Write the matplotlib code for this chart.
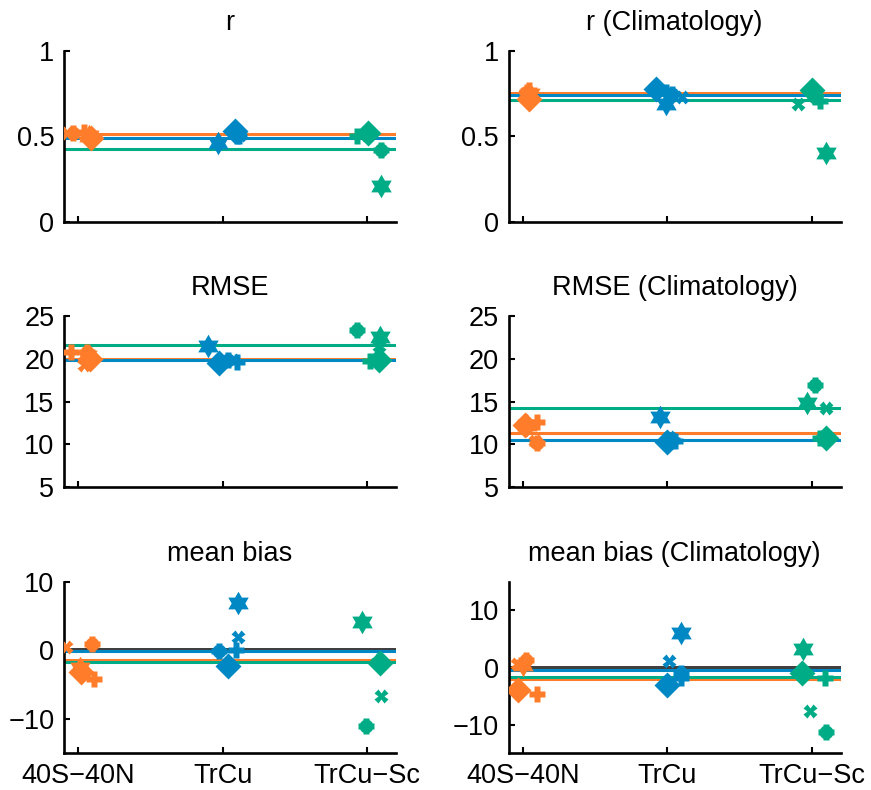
import numpy as np
import matplotlib
matplotlib.use('Agg')
import matplotlib.pyplot as plt

plt.rcParams['font.family'] = ['Liberation Sans', 'DejaVu Sans']

# categories and colours
categories = ['40S\u221240N', 'TrCu', 'TrCu\u2212Sc']
colors = ['#FF7D2A', '#0088C4', '#00AC86']

# each row = category, columns = model marker [x, plus, blob, diamond, hexagram]
r_vals = [[0.52, 0.525, 0.52, 0.49, 0.50],
          [0.51, 0.50, 0.50, 0.53, 0.46],
          [0.51, 0.50, 0.42, 0.52, 0.21]]
r_jit = [[-0.08, 0.04, -0.04, 0.09, 0.07],
         [0.12, 0.11, 0.10, 0.084, -0.035],
         [0.0, -0.07, 0.098, 0.007, 0.098]]
r_ref = [0.515, 0.493, 0.427]

r_clim_vals = [[0.75, 0.77, 0.76, 0.72, 0.75],
               [0.73, 0.76, 0.75, 0.78, 0.69],
               [0.69, 0.71, 0.73, 0.77, 0.405]]
r_clim_jit = [[0.014, 0.04, 0.03, 0.04, 0.05],
              [0.10, -0.007, 0.035, -0.076, -0.007],
              [-0.097, 0.056, 0.02, 0.0, 0.097]]
r_clim_ref = [0.752, 0.745, 0.715]

rmse_vals = [[19.3, 20.8, 20.8, 20.0, 20.3],
             [19.8, 19.6, 19.85, 19.5, 21.5],
             [21.5, 19.7, 23.4, 19.8, 22.6]]
rmse_jit = [[0.04, -0.05, 0.056, 0.077, 0.06],
            [0.07, 0.10, 0.035, -0.028, -0.10],
            [0.085, 0.02, -0.07, 0.085, 0.09]]
rmse_ref = [20.0, 19.8, 21.6]

rmse_clim_vals = [[10.4, 12.6, 10.2, 12.25, 12.2],
                  [10.8, 10.4, 10.5, 10.3, 13.2],
                  [14.25, 10.7, 16.9, 10.7, 14.8]]
rmse_clim_jit = [[0.083, 0.097, 0.097, 0.014, 0.03],
                 [0.014, 0.05, 0.035, 0.0, -0.049],
                 [0.097, 0.056, 0.02, 0.097, -0.035]]
rmse_clim_ref = [11.35, 10.5, 14.27]

bias_vals = [[0.5, -4.2, 1.0, -3.1, -2.6],
             [1.9, 0.05, -0.1, -2.3, 6.9],
             [-6.7, -1.5, -11.05, -1.8, 4.2]]
bias_jit = [[-0.084, 0.11, 0.097, 0.021, 0.01],
            [0.104, 0.09, -0.028, 0.035, 0.104],
            [0.098, 0.08, -0.007, 0.09, -0.035]]
bias_ref = [-1.4, -0.1, -1.75]

bias_clim_vals = [[0.6, -4.7, 1.3, -4.0, 0.5],
                  [1.2, -1.8, -0.9, -3.0, 6.1],
                  [-7.6, -1.8, -11.3, -0.9, 3.3]]
bias_clim_jit = [[-0.042, 0.097, 0.021, -0.035, 0.0],
                 [0.014, 0.097, 0.097, 0.0, 0.097],
                 [-0.014, 0.09, 0.097, -0.07, -0.063]]
bias_clim_ref = [-2.0, -0.5, -1.7]

# hexagram (star of David) marker
ang_out = np.deg2rad(90 + 60 * np.arange(6))
ang_in = ang_out + np.deg2rad(30)
r_in = 1 / np.sqrt(3)
hexagram = []
for a, b in zip(ang_out, ang_in):
    hexagram.append((np.cos(a), np.sin(a)))
    hexagram.append((r_in * np.cos(b), r_in * np.sin(b)))
hexagram.append(hexagram[0])

panels = [
    ('r', r_vals, r_jit, r_ref, (0, 1), [0, 0.5, 1], ['0', '0.5', '1']),
    ('r (Climatology)', r_clim_vals, r_clim_jit, r_clim_ref, (0, 1), [0, 0.5, 1], ['0', '0.5', '1']),
    ('RMSE', rmse_vals, rmse_jit, rmse_ref, (5, 25), [5, 10, 15, 20, 25], None),
    ('RMSE (Climatology)', rmse_clim_vals, rmse_clim_jit, rmse_clim_ref, (5, 25), [5, 10, 15, 20, 25], None),
    ('mean bias', bias_vals, bias_jit, bias_ref, (-15, 10), [-10, 0, 10], None),
    ('mean bias (Climatology)', bias_clim_vals, bias_clim_jit, bias_clim_ref, (-15, 15), [-10, 0, 10], None),
]

fig = plt.figure(figsize=(8.71, 7.90), dpi=100)
lefts = [0.0735, 0.584]
bottoms = [0.719, 0.3835, 0.0468]
w, h = 0.381, 0.2165

for k, (title, vals, jit, ref, ylim, yticks, ylabels) in enumerate(panels):
    row, col = k // 2, k % 2
    ax = fig.add_axes([lefts[col], bottoms[row], w, h])

    if 'bias' in title:
        ax.axhline(0, color='#404040', lw=3.6, zorder=1)
    for i in range(3):
        ax.axhline(ref[i], color=colors[i], lw=2.2, zorder=2)

    for i in range(3):
        c = colors[i]
        xs = [i + 1 + j for j in jit[i]]
        v = vals[i]
        ax.plot(xs[0], v[0], marker='X', ms=10, color=c, mec='none', ls='none', zorder=3)
        ax.plot(xs[1], v[1], marker='P', ms=12, color=c, mec='none', ls='none', zorder=3)
        ax.plot(xs[2], v[2], marker='o', ms=10, color=c, mec='none', ls='none', zorder=3)
        ax.plot(xs[2], v[2], marker='P', ms=12, color=c, mec='none', ls='none', zorder=3)
        ax.plot(xs[3], v[3], marker='D', ms=13, color=c, mec='none', ls='none', zorder=3)
        ax.plot(xs[4], v[4], marker=hexagram, ms=17, color=c, mec='none', ls='none', zorder=3)

    ax.set_xlim(0.9, 3.2)
    ax.set_ylim(*ylim)
    ax.set_yticks(yticks)
    if ylabels is not None:
        ax.set_yticklabels(ylabels)
    ax.set_xticks([1, 2, 3])
    if row == 2:
        ax.set_xticklabels(categories)
    else:
        ax.set_xticklabels([])
    ax.set_title(title, fontsize=19.5, pad=15)
    for s in ['top', 'right']:
        ax.spines[s].set_visible(False)
    for s in ['left', 'bottom']:
        ax.spines[s].set_linewidth(1.9)
    ax.tick_params(direction='in', length=4, width=1.5, labelsize=19.5, pad=7)

fig.savefig('out.png', dpi=100)
